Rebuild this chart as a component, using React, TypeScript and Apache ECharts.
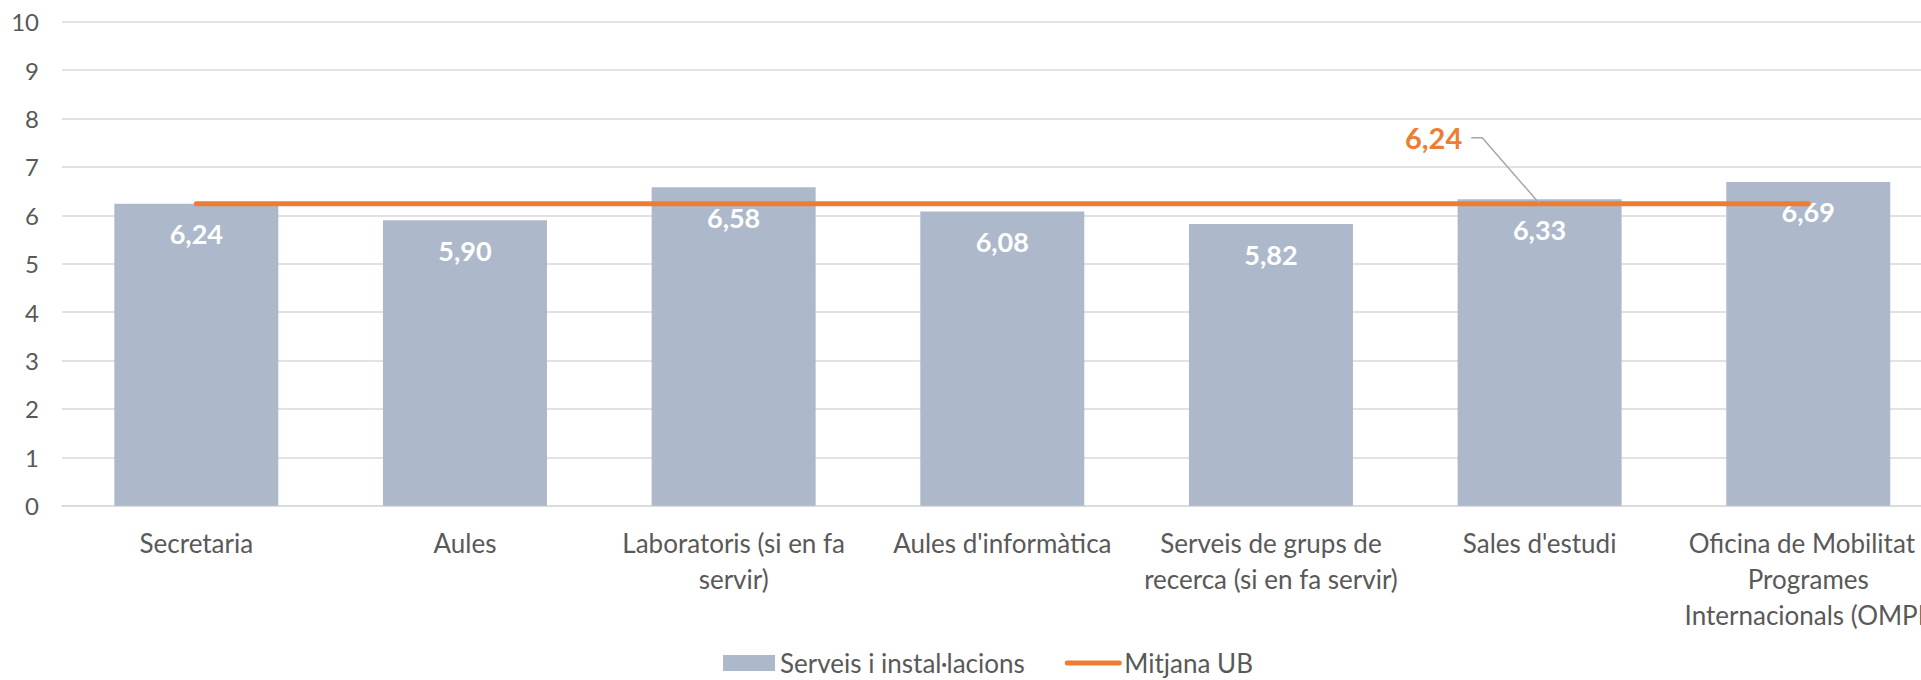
import React, { useEffect, useRef } from 'react';
import * as echarts from 'echarts';

const categories = [
  'Secretaria',
  'Aules',
  'Laboratoris (si en fa\nservir)',
  "Aules d'informàtica",
  'Serveis de grups de\nrecerca (si en fa servir)',
  "Sales d'estudi",
  'Oficina de Mobilitat i\nProgrames\nInternacionals (OMPI)',
];
const serviceValues = [6.24, 5.9, 6.58, 6.08, 5.82, 6.33, 6.69];
const ubAverageValues = [6.24, 6.24, 6.24, 6.24, 6.24, 6.24, 6.24];
const avgLabelIndex = 5;
const seriesNames = ['Serveis i instal·lacions', 'Mitjana UB'];
const yMin = 0;
const yMax = 10;
const yInterval = 1;

const FONT = 'Lato, "Open Sans", sans-serif';
const fmt = (v: number) => v.toFixed(2).replace('.', ',');

export default function App() {
  const ref = useRef<HTMLDivElement>(null);
  useEffect(() => {
    if (!ref.current) return;
    const chart = echarts.init(ref.current, undefined, { renderer: 'svg' });
    chart.setOption({
      animation: false,
      backgroundColor: '#ffffff',
      textStyle: { fontFamily: FONT },
      grid: {
        left: 62,
        top: 21.7,
        width: 1880.6,
        height: 484,
        containLabel: false,
        outerBoundsMode: 'none',
      },
      legend: {
        left: 'center',
        top: 650,
        padding: 0,
        itemWidth: 52,
        itemHeight: 16,
        itemGap: 40,
        textStyle: { fontFamily: FONT, fontSize: 26, lineHeight: 24, color: '#595959' },
        data: [
          { name: seriesNames[0], icon: 'rect' },
          {
            name: seriesNames[1],
            lineStyle: { width: 5, cap: 'round' },
            itemStyle: { color: 'rgba(0,0,0,0)', opacity: 0 },
          },
        ],
      },
      xAxis: {
        type: 'category',
        data: categories,
        axisTick: { show: false },
        axisLine: { lineStyle: { color: '#D9D9D9', width: 1.5 } },
        axisLabel: {
          fontFamily: FONT,
          fontSize: 26,
          lineHeight: 36,
          color: '#595959',
          margin: 19,
          interval: 0,
          align: 'center',
        },
      },
      yAxis: {
        type: 'value',
        min: yMin,
        max: yMax,
        interval: yInterval,
        axisLine: { show: false },
        axisTick: { show: false },
        splitLine: { lineStyle: { color: '#D9D9D9', width: 1.5 } },
        axisLabel: { fontFamily: FONT, fontSize: 24, color: '#595959', margin: 23 },
      },
      series: [
        {
          name: seriesNames[0],
          type: 'bar',
          data: serviceValues,
          barWidth: 164,
          itemStyle: { color: '#ADB9CA' },
          label: {
            show: true,
            position: 'insideTop',
            distance: 16,
            color: '#ffffff',
            fontFamily: FONT,
            fontSize: 27,
            fontWeight: 'bold',
            lineHeight: 28,
            formatter: (p: any) => fmt(p.value),
          },
        },
        {
          name: seriesNames[1],
          type: 'line',
          symbol: 'none',
          data: ubAverageValues.map((v, i) =>
            i === avgLabelIndex
              ? {
                  value: v,
                  symbol: 'circle',
                  symbolSize: 2,
                  label: { show: true },
                  labelLine: { show: true, length2: 11, lineStyle: { color: '#A6A6A6', width: 1.5 } },
                }
              : v
          ),
          lineStyle: { color: '#ED7D31', width: 5, cap: 'round' },
          itemStyle: { color: '#ED7D31' },
          label: {
            show: false,
            position: 'top',
            color: '#ED7D31',
            fontFamily: FONT,
            fontSize: 29,
            fontWeight: 'bold',
            lineHeight: 28,
            padding: [0, 9, 0, 9],
            formatter: (p: any) => fmt(p.value),
          },
          labelLayout: (p: any) => (p.dataIndex === avgLabelIndex ? { dx: -106, dy: -46 } : {}),
        },
      ],
    });
    return () => chart.dispose();
  }, []);
  return (
    <div
      style={{
        position: 'fixed',
        left: 0,
        top: 0,
        width: 1921,
        height: 680,
        overflow: 'hidden',
        background: '#ffffff',
      }}
    >
      <div ref={ref} style={{ width: 1976, height: 680 }} />
    </div>
  );
}
